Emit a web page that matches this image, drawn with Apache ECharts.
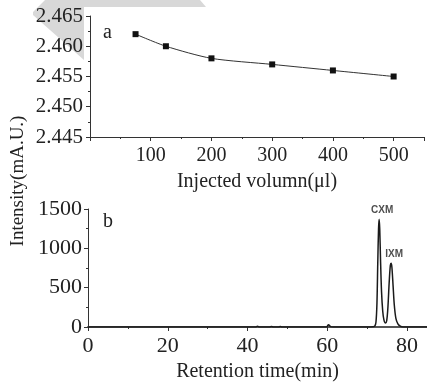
<!DOCTYPE html>
<html><head><meta charset="utf-8">
<script src="https://cdn.jsdelivr.net/npm/echarts@6/dist/echarts.min.js"></script>
<style>html,body{margin:0;padding:0;background:#fff}#c{width:427px;height:383px}</style>
</head><body><div id="c"></div>
<script>
// Panel a
const injectedVolume = [75, 125, 200, 300, 400, 500];
const intensityA = [2.462, 2.460, 2.458, 2.457, 2.456, 2.455];
// Panel b (chromatogram)
const retentionTime = [0, 10, 20, 30, 40, 42, 42.5, 43, 45.5, 46, 46.5, 47.8, 48.2, 48.6, 55, 59.8, 60.3, 60.8, 61.5, 65, 70, 71.5, 71.9, 72.2, 72.45, 72.65, 72.85, 73.0, 73.15, 73.35, 73.6, 73.9, 74.2, 74.6, 74.9, 75.2, 75.5, 75.8, 76.0, 76.2, 76.5, 76.8, 77.2, 77.7, 78.3, 79, 85];
const signalB = [0, 0, 0, 0, 0, 0, 10, 0, 0, 6, 0, 0, 6, 0, 0, 0, 30, 5, 0, 0, 0, 3, 10, 60, 300, 800, 1250, 1370, 1250, 850, 450, 200, 90, 50, 80, 250, 550, 780, 810, 760, 520, 280, 110, 40, 10, 0, 0];
const peakNames = ['CXM', 'IXM'];
const peakTimes = [73.0, 76.0];
const peakHeights = [1370, 810];

const serif = 'Liberation Serif';
const txt = '#222';
const axisCommon = {
  axisLine: { lineStyle: { color: '#333', width: 1 } },
  axisTick: { show: true, inside: false, length: 4, lineStyle: { color: '#333' } },
  minorTick: { show: true, splitNumber: 2, length: 2, lineStyle: { color: '#333' } },
  splitLine: { show: false },
  minorSplitLine: { show: false }
};

const chart = echarts.init(document.getElementById('c'), null, { renderer: 'canvas' });
chart.setOption({
  animation: false,
  backgroundColor: '#fff',
  grid: [
    { left: 90, top: 16, width: 338, height: 121 },
    { left: 88, top: 209, width: 340, height: 120 }
  ],
  xAxis: [
    Object.assign({}, axisCommon, {
      type: 'value', gridIndex: 0, min: 0, max: 550, interval: 100,
      axisLabel: { fontFamily: serif, fontSize: 20, color: txt, margin: 9,
        formatter: v => (v === 0 || v > 500) ? '' : String(v) },
      name: 'Injected volumn(μl)', nameLocation: 'middle', nameGap: 35,
      nameTextStyle: { fontFamily: serif, fontSize: 20, color: txt }
    }),
    Object.assign({}, axisCommon, {
      type: 'value', gridIndex: 1, min: 0, max: 85, interval: 20,
      axisLine: { lineStyle: { color: '#555', width: 2 } },
      axisLabel: { fontFamily: serif, fontSize: 22, color: txt, margin: 8 },
      name: 'Retention time(min)', nameLocation: 'middle', nameGap: 35,
      nameTextStyle: { fontFamily: serif, fontSize: 20, color: txt }
    })
  ],
  yAxis: [
    Object.assign({}, axisCommon, {
      type: 'value', gridIndex: 0, min: 2.445, max: 2.465, interval: 0.005,
      axisLabel: { fontFamily: serif, fontSize: 21, color: txt, margin: 7,
        formatter: v => v.toFixed(3) }
    }),
    Object.assign({}, axisCommon, {
      type: 'value', gridIndex: 1, min: 0, max: 1500, interval: 500,
      axisLabel: { fontFamily: serif, fontSize: 22, color: txt, margin: 6,
        formatter: v => String(v) }
    })
  ],
  graphic: [
    { type: 'polygon', z: -10, silent: true,
      shape: { points: [[33, 12], [45, 0], [200, 0], [206, 7], [84, 7], [84, 60], [33, 15]] },
      style: { fill: '#d8d8d8' } },
    { type: 'text', left: 103, top: 23, style: { text: 'a', font: '20px "Liberation Serif"', fill: txt } },
    { type: 'text', left: 103, top: 212, style: { text: 'b', font: '20px "Liberation Serif"', fill: txt } },
    { type: 'text', x: 18, y: 181, rotation: Math.PI / 2,
      style: { text: 'Intensity(mA.U.)', font: '19px "Liberation Serif"', fill: txt, align: 'center', verticalAlign: 'middle' } }
  ],
  series: [
    { type: 'line', xAxisIndex: 0, yAxisIndex: 0,
      data: injectedVolume.map((x, i) => [x, intensityA[i]]),
      smooth: 0.25, symbol: 'rect', symbolSize: 6,
      itemStyle: { color: '#111' }, lineStyle: { color: '#333', width: 1 } },
    { type: 'line', xAxisIndex: 1, yAxisIndex: 1,
      data: retentionTime.map((t, i) => [t, signalB[i]]),
      showSymbol: false, symbol: 'none', smooth: 0.3,
      lineStyle: { color: '#1a1a1a', width: 1.5 } },
    { type: 'scatter', xAxisIndex: 1, yAxisIndex: 1,
      data: peakTimes.map((t, i) => ({ value: [t, peakHeights[i]], name: peakNames[i] })),
      symbolSize: 0.1, itemStyle: { color: 'rgba(0,0,0,0)' },
      label: { show: true, position: 'top', distance: 4, offset: [3, 0],
        formatter: p => p.name, fontFamily: 'Liberation Sans', fontWeight: 'bold', fontSize: 10, color: '#222' } }
  ]
});
</script></body></html>
